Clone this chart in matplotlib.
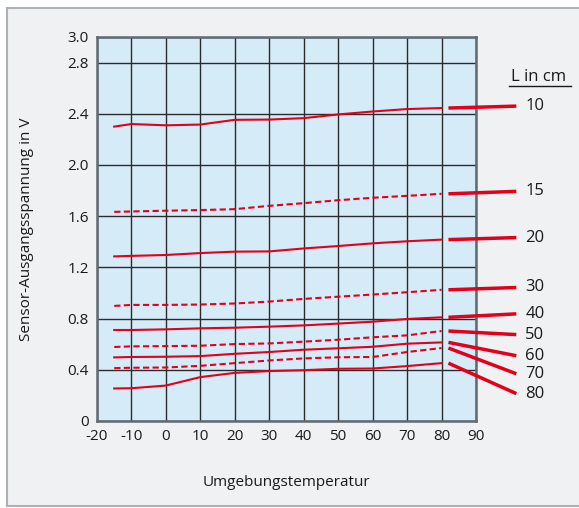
import matplotlib
matplotlib.use("Agg")
import matplotlib.pyplot as plt
from matplotlib.patches import Rectangle

plt.rcParams['font.family'] = ['Open Sans', 'DejaVu Sans']
plt.rcParams['axes.unicode_minus'] = False

# Messpunkte (Temperatur in °C)
temps = [-15, -10, 0, 10, 20, 30, 40, 50, 60, 70, 80]

# Sensorspannung je Abstand L (cm)
u_10 = [2.30, 2.32, 2.31, 2.316, 2.353, 2.355, 2.366, 2.395, 2.418, 2.437, 2.445]
u_15 = [1.634, 1.637, 1.643, 1.648, 1.655, 1.681, 1.702, 1.725, 1.744, 1.759, 1.775]
u_20 = [1.286, 1.29, 1.297, 1.312, 1.323, 1.325, 1.348, 1.367, 1.388, 1.404, 1.417]
u_30 = [0.899, 0.907, 0.907, 0.91, 0.918, 0.933, 0.954, 0.971, 0.988, 1.006, 1.025]
u_40 = [0.711, 0.711, 0.716, 0.724, 0.729, 0.737, 0.747, 0.761, 0.776, 0.797, 0.81]
u_50 = [0.578, 0.583, 0.585, 0.588, 0.601, 0.606, 0.62, 0.635, 0.654, 0.669, 0.703]
u_60 = [0.497, 0.5, 0.502, 0.507, 0.525, 0.539, 0.557, 0.568, 0.58, 0.604, 0.614]
u_70 = [0.413, 0.416, 0.418, 0.431, 0.452, 0.473, 0.489, 0.498, 0.5, 0.539, 0.57]
u_80 = [0.254, 0.256, 0.277, 0.343, 0.376, 0.39, 0.397, 0.408, 0.41, 0.429, 0.452]

abstaende = ['10', '15', '20', '30', '40', '50', '60', '70', '80']
kurven = [u_10, u_15, u_20, u_30, u_40, u_50, u_60, u_70, u_80]
gestrichelt = [False, True, False, True, False, True, False, True, False]
# Endhoehe der Hinweislinien bei den Beschriftungen
label_y = [2.46, 1.794, 1.433, 1.043, 0.837, 0.675, 0.51, 0.369, 0.214]

x_ticks = list(range(-20, 91, 10))
y_ticks = [0, 0.4, 0.8, 1.2, 1.6, 2.0, 2.4, 2.8, 3.0]
y_ticklabels = ['0', '0.4', '0.8', '1.2', '1.6', '2.0', '2.4', '2.8', '3.0']

rot = '#e2001a'

fig = plt.figure(figsize=(5.79, 5.08), dpi=100)
fig.patch.set_facecolor('white')
# grauer Rahmen hinter dem Diagramm
fig.patches.append(Rectangle((7 / 579, 1 - 506 / 508), 1.0, 498 / 508,
                             transform=fig.transFigure, facecolor='#f0f1f3',
                             edgecolor='#aeb2b6', linewidth=1.5, zorder=-10))

ax = fig.add_axes([97 / 579, 1 - 421 / 508, 379 / 579, 384 / 508])
ax.set_facecolor('#d6ebf8')
ax.set_xlim(-20, 90)
ax.set_ylim(0, 3.0)
ax.set_xticks(x_ticks)
ax.set_yticks(y_ticks)
ax.set_yticklabels(y_ticklabels)
ax.tick_params(length=0, labelsize=11, colors='#1a1a1a', pad=6)
ax.grid(True, color='#2b2b2b', linewidth=1.0)
ax.set_axisbelow(True)
for s in ax.spines.values():
    s.set_color('#5f6a72')
    s.set_linewidth(1.8)

for name, werte, gs, ly in zip(abstaende, kurven, gestrichelt, label_y):
    ls = (0, (3, 1.6)) if gs else '-'
    ax.plot(temps, werte, color=rot, linewidth=1.5, linestyle=ls, zorder=3)
    # Hinweislinie zur Beschriftung
    ax.plot([82, 101.7], [werte[-1], ly], color=rot, linewidth=2.5,
            clip_on=False, zorder=3, solid_capstyle='butt')
    ax.text(104.3, ly, name, fontsize=12, va='center', ha='left',
            color='#1a1a1a', clip_on=False)

ax.text(108.3, 2.69, 'L in cm', fontsize=12, va='center', ha='center', color='#1a1a1a')
ax.plot([99.5, 117.5], [2.62, 2.62], color='#1a1a1a', linewidth=1.0, clip_on=False)

ax.set_xlabel('Umgebungstemperatur', fontsize=11, labelpad=22, color='#1a1a1a')
ax.set_ylabel('Sensor-Ausgangsspannung in V', fontsize=11, labelpad=24, color='#1a1a1a')

fig.savefig('out.png', dpi=100)
